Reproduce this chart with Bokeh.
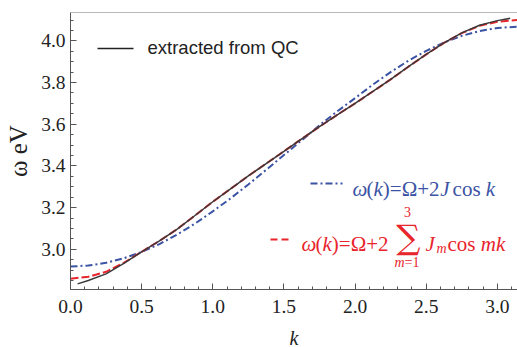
import numpy as np
from bokeh.plotting import figure
from bokeh.models import Range1d, FixedTicker, Label, Arrow, Span
from bokeh.embed import file_html
from bokeh.resources import INLINE

# ---- data ----
k_qc = [0.05, 0.125, 0.25, 0.375, 0.5, 0.625, 0.75, 0.875, 1.0, 1.125, 1.25, 1.375, 1.5,
        1.625, 1.75, 1.875, 2.0, 2.125, 2.25, 2.375, 2.5, 2.625, 2.75, 2.875, 3.0, 3.09]
w_qc = [2.834, 2.850, 2.882, 2.932, 2.988, 3.040, 3.097, 3.162, 3.228, 3.290, 3.352, 3.411, 3.470,
        3.530, 3.588, 3.645, 3.700, 3.757, 3.815, 3.876, 3.935, 3.990, 4.038, 4.075, 4.097, 4.108]

k_fit = [0.0, 0.125, 0.25, 0.375, 0.5, 0.625, 0.75, 0.875, 1.0, 1.125, 1.25, 1.375, 1.5,
         1.625, 1.75, 1.875, 2.0, 2.125, 2.25, 2.375, 2.5, 2.625, 2.75, 2.875, 3.0, 3.1416]
w_nn = [2.917, 2.922, 2.935, 2.957, 2.987, 3.025, 3.071, 3.123, 3.182, 3.244, 3.311, 3.381, 3.452,
        3.523, 3.595, 3.662, 3.725, 3.790, 3.850, 3.905, 3.952, 3.992, 4.024, 4.047, 4.062, 4.068]
w_3j = [2.859, 2.868, 2.892, 2.935, 2.988, 3.040, 3.097, 3.162, 3.228, 3.290, 3.352, 3.411, 3.470,
        3.530, 3.588, 3.645, 3.700, 3.757, 3.815, 3.876, 3.935, 3.990, 4.037, 4.072, 4.092, 4.100]

x_ticks = [0.0, 0.5, 1.0, 1.5, 2.0, 2.5, 3.0]
x_tick_labels = ["0.0", "0.5", "1.0", "1.5", "2.0", "2.5", "3.0"]
y_ticks = [3.0, 3.2, 3.4, 3.6, 3.8, 4.0]
y_tick_labels = ["3.0", "3.2", "3.4", "3.6", "3.8", "4.0"]

BLUE = "#3b53a4"
RED = "#e8242c"
BLACK = "#3a3a3a"
AXC = "#555555"
TXT = "#222222"
SERIF = "Liberation Serif"

p = figure(frame_width=447, frame_height=277, width=517, height=347,
           min_border_left=70, min_border_right=0, min_border_top=12, min_border_bottom=58,
           x_range=Range1d(0, np.pi), y_range=Range1d(2.807, 4.136),
           output_backend="svg", toolbar_location=None)
p.grid.visible = False
p.outline_line_color = None
p.background_fill_color = "white"
p.border_fill_color = "white"
p.add_layout(Span(location=p.y_range.end, dimension="width", line_color="#777777", line_width=1))

p.line(k_fit, w_nn, line_color=BLUE, line_width=2, line_dash="7 3 2 3")
p.line(k_fit, w_3j, line_color=RED, line_width=2, line_dash="8 3")
p.line(k_qc, w_qc, line_color=BLACK, line_width=1.5)

x_minor = list(np.round(np.arange(0.0, 3.15, 0.1), 2))
y_minor = list(np.round(np.arange(2.85, 4.13, 0.05), 3))
p.xaxis.ticker = FixedTicker(ticks=x_ticks, minor_ticks=x_minor)
p.yaxis.ticker = FixedTicker(ticks=y_ticks, minor_ticks=y_minor)
p.xaxis.major_label_overrides = dict(zip(x_ticks, x_tick_labels))
p.yaxis.major_label_overrides = dict(zip(y_ticks, y_tick_labels))

for ax in (p.xaxis[0], p.yaxis[0]):
    ax.axis_line_color = AXC
    ax.major_tick_line_color = AXC
    ax.minor_tick_line_color = AXC
    ax.major_tick_in = 6
    ax.major_tick_out = 0
    ax.minor_tick_in = 3
    ax.minor_tick_out = 0
    ax.major_label_text_font = SERIF
    ax.major_label_text_font_size = "19.5px"
    ax.major_label_text_color = TXT
    ax.axis_label_text_font = SERIF
    ax.axis_label_text_color = TXT
p.xaxis.major_label_standoff = 10
p.yaxis.major_label_standoff = 5
p.xaxis.axis_label = "k"
p.xaxis.axis_label_text_font_style = "italic"
p.xaxis.axis_label_standoff = 11
p.xaxis.axis_label_text_font_size = "20px"
p.xaxis.axis_label_text_line_height = 0.6
p.yaxis.axis_label = "ω eV"
p.yaxis.axis_label_text_font_style = "normal"
p.yaxis.axis_label_text_font_size = "25px"
p.yaxis.axis_label_standoff = 6

# helper for mixed roman / italic text (Times metrics)
W = {"(": .333, ")": .333, "=": .564, "+": .564, "1": .5, "2": .5, "3": .5, "c": .444, "o": .5,
     "s": .389, " ": .25, "e": .444, "V": .722, "Ω": .768, "k": .444, "J": .444, "m": .722, "ω": .667}


def width(t, size):
    return sum(W.get(ch, .5) for ch in t) * size


def put(pieces, x0, y, color, size, baseline="alphabetic"):
    x = x0
    for t, style in pieces:
        if t == "_gap":
            x += 0.15 * size
            continue
        p.add_layout(Label(x=x, y=y, x_units="screen", y_units="screen", text=t,
                           text_font=SERIF, text_font_style=style, text_font_size=f"{size}px",
                           text_color=color, text_baseline=baseline, text_align="left"))
        x += width(t, size)
    return x


# legend: black
p.add_layout(Arrow(x_start=27, y_start=241, x_end=63, y_end=241, start_units="screen",
                   end_units="screen", start=None, end=None, line_color=TXT, line_width=1.5))
p.add_layout(Label(x=77, y=242, x_units="screen", y_units="screen", text="extracted from QC",
                   text_font="Liberation Sans", text_font_size="18.5px", text_color=TXT,
                   text_baseline="middle"))

# legend: blue
p.add_layout(Arrow(x_start=240, y_start=106, x_end=272, y_end=106, start_units="screen",
                   end_units="screen", start=None, end=None, line_color=BLUE, line_width=2,
                   line_dash="7 3 2 3"))
put([("ω", "italic"), ("(", "normal"), ("k", "italic"), (")=Ω+2", "normal"), ("J", "italic"),
     ("_gap", ""), ("cos", "normal"), (" ", "normal"), ("k", "italic")], 282, 100.5, BLUE, 21)

# legend: red
p.add_layout(Arrow(x_start=200, y_start=50, x_end=218, y_end=50, start_units="screen",
                   end_units="screen", start=None, end=None, line_color=RED, line_width=2,
                   line_dash="7 4"))
put([("ω", "italic"), ("(", "normal"), ("k", "italic"), (")=Ω+2", "normal")], 231, 46, RED, 21)
p.add_layout(Label(x=338, y=52.5, x_units="screen", y_units="screen", text="∑",
                   text_font="DejaVu Serif", text_font_size="34px", text_color=RED,
                   text_baseline="middle", text_align="center"))
p.add_layout(Label(x=337, y=77.5, x_units="screen", y_units="screen", text="3",
                   text_font=SERIF, text_font_size="14px", text_color=RED,
                   text_baseline="middle", text_align="center"))
put([("m", "italic"), ("=1", "normal")], 324, 27, RED, 14, baseline="middle")
p.add_layout(Label(x=355, y=46, x_units="screen", y_units="screen", text="J",
                   text_font=SERIF, text_font_style="italic", text_font_size="21px",
                   text_color=RED, text_baseline="alphabetic"))
p.add_layout(Label(x=366, y=41, x_units="screen", y_units="screen", text="m",
                   text_font=SERIF, text_font_style="italic", text_font_size="14px",
                   text_color=RED, text_baseline="alphabetic"))
put([("cos", "normal"), (" ", "normal"), ("mk", "italic")], 377, 46, RED, 21)

open("out.html", "w").write(file_html(p, INLINE))
